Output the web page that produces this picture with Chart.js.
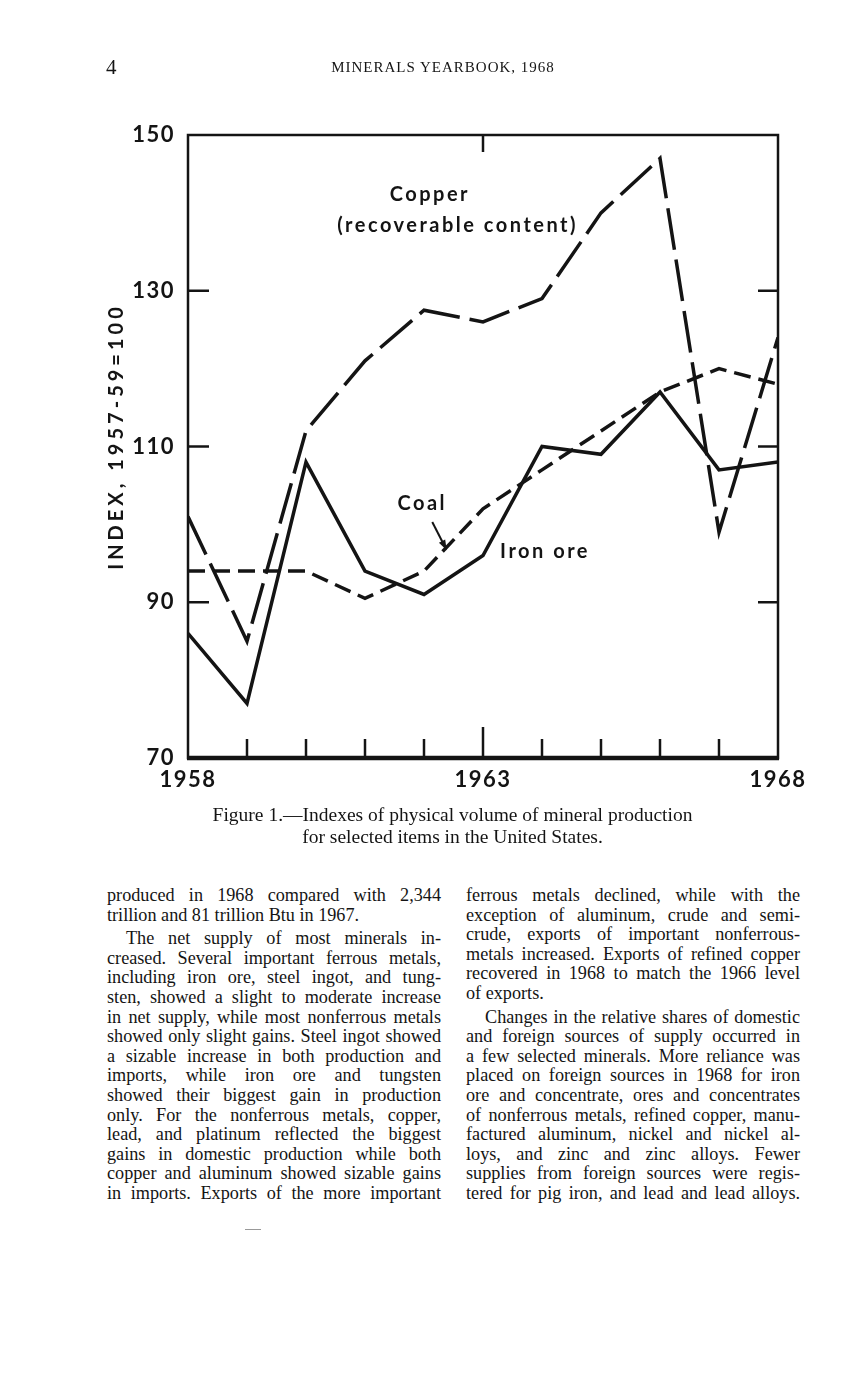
<!DOCTYPE html>
<html>
<head>
<meta charset="utf-8">
<title>Minerals Yearbook, 1968 - Figure 1</title>
<script src="https://cdn.jsdelivr.net/npm/chart.js@4.4.0/dist/chart.umd.min.js"></script>
<style>
  html, body { margin: 0; padding: 0; background: #fff; }
  body {
    width: 857px; height: 1379px; position: relative; overflow: hidden;
    color: #141414; font-family: "Liberation Serif", "Times New Roman", serif;
  }
  #chart { position: absolute; left: 0; top: 0; }
  .pageno { position: absolute; left: 106px; top: 55px; font-size: 21px; }
  .runhead {
    position: absolute; left: 0; width: 886px; top: 59px; text-align: center;
    font-size: 15px; letter-spacing: 1px;
  }
  .caption {
    position: absolute; left: 0; width: 905px; top: 804px; text-align: center;
    font-size: 19.5px; line-height: 22px;
  }
  .col { position: absolute; top: 886px; width: 334px; font-size: 18.2px; line-height: 19.6px; }
  .col div { text-align: justify; text-align-last: justify; }
  .col div.end { text-align-last: left; }
  .col div.ind { text-indent: 19px; margin-top: 4px; }
  .smudge { position: absolute; left: 245px; top: 1229px; width: 16px; height: 1px; background: #999; }
</style>
</head>
<body>
<canvas id="chart" width="857" height="820"></canvas>

<div class="pageno">4</div>
<div class="runhead">MINERALS YEARBOOK, 1968</div>

<div class="caption">Figure 1.—Indexes of physical volume of mineral production<br>for selected items in the United States.</div>

<div class="col" style="left:107px">
  <div>produced in 1968 compared with 2,344</div>
  <div class="end">trillion and 81 trillion Btu in 1967.</div>
  <div class="ind">The net supply of most minerals in-</div>
  <div>creased. Several important ferrous metals,</div>
  <div>including iron ore, steel ingot, and tung-</div>
  <div>sten, showed a slight to moderate increase</div>
  <div>in net supply, while most nonferrous metals</div>
  <div>showed only slight gains. Steel ingot showed</div>
  <div>a sizable increase in both production and</div>
  <div>imports, while iron ore and tungsten</div>
  <div>showed their biggest gain in production</div>
  <div>only. For the nonferrous metals, copper,</div>
  <div>lead, and platinum reflected the biggest</div>
  <div>gains in domestic production while both</div>
  <div>copper and aluminum showed sizable gains</div>
  <div>in imports. Exports of the more important</div>
</div>

<div class="col" style="left:466px">
  <div>ferrous metals declined, while with the</div>
  <div>exception of aluminum, crude and semi-</div>
  <div>crude, exports of important nonferrous-</div>
  <div>metals increased. Exports of refined copper</div>
  <div>recovered in 1968 to match the 1966 level</div>
  <div class="end">of exports.</div>
  <div class="ind">Changes in the relative shares of domestic</div>
  <div>and foreign sources of supply occurred in</div>
  <div>a few selected minerals. More reliance was</div>
  <div>placed on foreign sources in 1968 for iron</div>
  <div>ore and concentrate, ores and concentrates</div>
  <div>of nonferrous metals, refined copper, manu-</div>
  <div>factured aluminum, nickel and nickel al-</div>
  <div>loys, and zinc and zinc alloys. Fewer</div>
  <div>supplies from foreign sources were regis-</div>
  <div>tered for pig iron, and lead and lead alloys.</div>
</div>
<div class="smudge"></div>

<script>
// index values, 1957-59 = 100
const years   = [1958, 1959, 1960, 1961, 1962, 1963, 1964, 1965, 1966, 1967, 1968];
const copper  = [101, 85, 112, 121, 127.5, 126, 129, 140, 147, 99, 124];
const coal    = [94, 94, 94, 90.5, 94, 102, 107, 112, 117, 120, 118];
const ironOre = [86, 77, 108, 94, 91, 96, 110, 109, 117, 107, 108];

const yTicks = [70, 90, 110, 130, 150];
const xLabelYears = [1958, 1963, 1968];
const yTitle = "INDEX, 1957-59=100";

// text written on the plot, placed in data units
const notes = [
  { text: "Copper", x: 1962.1, y: 142.4, align: "center" },
  { text: "(recoverable content)", x: 1962.57, y: 138.4, align: "center" },
  { text: "Coal", x: 1961.97, y: 102.7, align: "center" },
  { text: "Iron ore", x: 1963.29, y: 96.5, align: "left" }
];
const coalArrow = { from: [1962.14, 100.3], to: [1962.37, 96.9] };

const INK = "#141414";
const SANS = "Lato, 'DejaVu Sans', sans-serif";

function pts(vals) {
  return years.map((yr, i) => ({ x: yr, y: vals[i] }));
}

function seg(ctx, x1, y1, x2, y2) {
  ctx.beginPath();
  ctx.moveTo(x1, y1);
  ctx.lineTo(x2, y2);
  ctx.stroke();
}

const framePlugin = {
  id: "frame",
  beforeDraw(chart) {
    chart.ctx.letterSpacing = "1.5px";
  },
  afterDraw(chart) {
    const ctx = chart.ctx;
    const a = chart.chartArea;
    const x = chart.scales.x, y = chart.scales.y;
    ctx.save();
    ctx.letterSpacing = "0px";
    ctx.strokeStyle = INK;
    ctx.fillStyle = INK;
    ctx.lineCap = "butt";

    // box
    ctx.lineWidth = 2.5;
    ctx.strokeRect(a.left, a.top, a.right - a.left, a.bottom - a.top);
    ctx.lineWidth = 4.5;
    seg(ctx, a.left - 1, a.bottom, a.right + 1, a.bottom);

    // inner ticks
    ctx.lineWidth = 2.5;
    yTicks.slice(1, -1).forEach(v => {
      const py = y.getPixelForValue(v);
      seg(ctx, a.left, py, a.left + 21, py);
      seg(ctx, a.right - 20, py, a.right, py);
    });
    years.slice(1, -1).forEach(yr => {
      const px = x.getPixelForValue(yr);
      const len = yr === 1963 ? 31 : 19;
      seg(ctx, px, a.bottom, px, a.bottom - len);
    });
    const mid = x.getPixelForValue(1963);
    seg(ctx, mid, a.top, mid, a.top + 17);

    // labels on the plot
    ctx.font = "bold 20px " + SANS;
    ctx.letterSpacing = "2.5px";
    ctx.textBaseline = "middle";
    notes.forEach(n => {
      ctx.textAlign = n.align;
      ctx.fillText(n.text, x.getPixelForValue(n.x), y.getPixelForValue(n.y));
    });

    // coal arrow
    const x1 = x.getPixelForValue(coalArrow.from[0]), y1 = y.getPixelForValue(coalArrow.from[1]);
    const x2 = x.getPixelForValue(coalArrow.to[0]), y2 = y.getPixelForValue(coalArrow.to[1]);
    ctx.lineWidth = 2;
    seg(ctx, x1, y1, x2, y2);
    const ang = Math.atan2(y2 - y1, x2 - x1);
    ctx.beginPath();
    ctx.moveTo(x2 + 2 * Math.cos(ang), y2 + 2 * Math.sin(ang));
    ctx.lineTo(x2 - 9 * Math.cos(ang - 0.4), y2 - 9 * Math.sin(ang - 0.4));
    ctx.lineTo(x2 - 9 * Math.cos(ang + 0.4), y2 - 9 * Math.sin(ang + 0.4));
    ctx.closePath();
    ctx.fill();

    // y axis title
    ctx.translate(117, (y.top + y.bottom) / 2 - 10);
    ctx.rotate(-Math.PI / 2);
    ctx.font = "bold 20px " + SANS;
    ctx.letterSpacing = "4px";
    ctx.textAlign = "center";
    ctx.textBaseline = "middle";
    ctx.fillText(yTitle, 0, 0);
    ctx.restore();
  }
};

const lineStyle = {
  borderColor: INK,
  borderWidth: 3.5,
  pointRadius: 0,
  tension: 0,
  fill: false,
  borderCapStyle: "butt",
  borderJoinStyle: "miter"
};

new Chart("chart", {
  type: "line",
  data: {
    datasets: [
      { ...lineStyle, label: "Copper (recoverable content)", data: pts(copper), borderDash: [42, 10] },
      { ...lineStyle, label: "Coal", data: pts(coal), borderDash: [17, 8] },
      { ...lineStyle, label: "Iron ore", data: pts(ironOre) }
    ]
  },
  options: {
    responsive: false,
    animation: false,
    events: [],
    layout: { padding: { left: 0, top: 135, right: 79, bottom: 22 } },
    plugins: { legend: { display: false }, tooltip: { enabled: false } },
    scales: {
      x: {
        type: "linear",
        min: 1958,
        max: 1968,
        grid: { display: false, drawTicks: false },
        border: { display: false },
        afterFit(s) { s.height = 40; },
        ticks: {
          stepSize: 1,
          autoSkip: false,
          maxRotation: 0,
          padding: 9,
          color: INK,
          font: { family: SANS, size: 22, weight: "bold" },
          callback: v => (xLabelYears.includes(v) ? String(v) : "")
        }
      },
      y: {
        min: 70,
        max: 150,
        grid: { display: false, drawTicks: false },
        border: { display: false },
        afterFit(s) { s.width = 188; },
        ticks: {
          stepSize: 20,
          padding: 13,
          color: INK,
          font: { family: SANS, size: 22, weight: "bold" },
          callback: v => (yTicks.includes(v) ? String(v) : "")
        }
      }
    }
  },
  plugins: [framePlugin]
});
</script>
</body>
</html>
